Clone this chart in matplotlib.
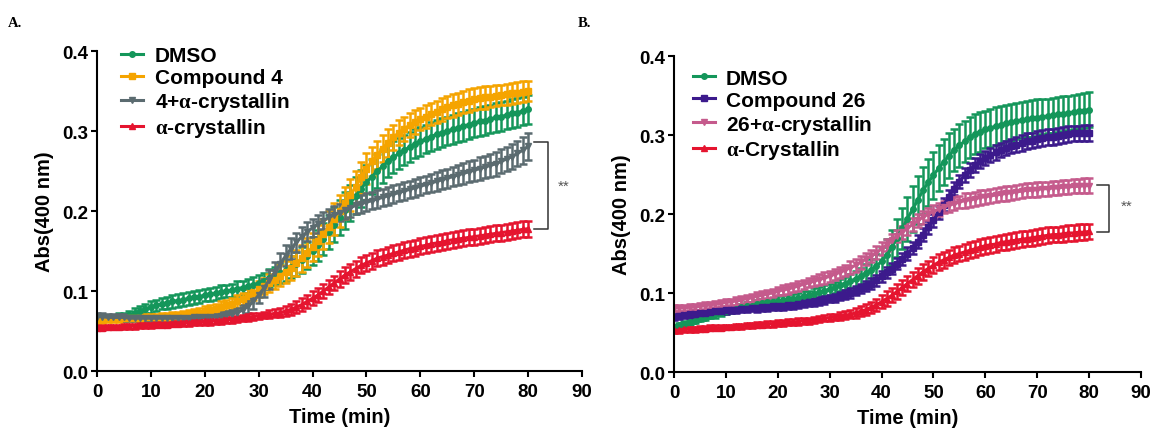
import numpy as np
import matplotlib
matplotlib.use("Agg")
import matplotlib.pyplot as plt

plt.rcParams['font.family'] = ['Liberation Sans', 'DejaVu Sans']
plt.rcParams['font.weight'] = 'bold'
plt.rcParams['mathtext.fontset'] = 'custom'
plt.rcParams['mathtext.rm'] = 'Liberation Serif'

# time points (min)
time = np.arange(0, 81)

# ---- panel A ----
dmso_a = [0.065, 0.065, 0.066, 0.066, 0.067, 0.068, 0.070, 0.073, 0.075, 0.078, 0.080,
          0.082, 0.084, 0.085, 0.087, 0.088, 0.089, 0.091, 0.092, 0.093, 0.095,
          0.096, 0.097, 0.099, 0.100, 0.101, 0.103, 0.104, 0.106, 0.108, 0.110,
          0.113, 0.116, 0.119, 0.122, 0.126, 0.130, 0.134, 0.139, 0.144, 0.150,
          0.157, 0.165, 0.174, 0.183, 0.192, 0.201, 0.210, 0.219, 0.228, 0.236,
          0.243, 0.250, 0.256, 0.262, 0.267, 0.272, 0.276, 0.280, 0.284, 0.287,
          0.290, 0.293, 0.296, 0.298, 0.300, 0.302, 0.304, 0.306, 0.308, 0.310,
          0.312, 0.313, 0.315, 0.317, 0.318, 0.320, 0.322, 0.323, 0.325, 0.327]
dmso_a_sd = [0.004, 0.004, 0.004, 0.004, 0.005, 0.005, 0.005, 0.006, 0.006, 0.006, 0.007,
             0.007, 0.007, 0.008, 0.008, 0.008, 0.008, 0.008, 0.008, 0.008, 0.008,
             0.008, 0.008, 0.008, 0.008, 0.008, 0.009, 0.009, 0.009, 0.009, 0.010,
             0.010, 0.011, 0.011, 0.012, 0.013, 0.014, 0.015, 0.016, 0.017, 0.018,
             0.019, 0.020, 0.021, 0.022, 0.022, 0.023, 0.023, 0.023, 0.023, 0.022,
             0.022, 0.021, 0.021, 0.020, 0.020, 0.019, 0.019, 0.019, 0.018, 0.018,
             0.018, 0.018, 0.018, 0.018, 0.018, 0.018, 0.018, 0.018, 0.018, 0.018,
             0.018, 0.018, 0.018, 0.018, 0.018, 0.018, 0.018, 0.018, 0.018, 0.018]

cmpd4 = [0.064, 0.064, 0.065, 0.065, 0.065, 0.066, 0.066, 0.066, 0.066, 0.067, 0.067,
         0.067, 0.068, 0.068, 0.069, 0.069, 0.070, 0.071, 0.072, 0.073, 0.075,
         0.076, 0.078, 0.080, 0.082, 0.084, 0.087, 0.090, 0.094, 0.098, 0.102,
         0.106, 0.110, 0.114, 0.119, 0.124, 0.129, 0.135, 0.141, 0.148, 0.155,
         0.163, 0.171, 0.180, 0.190, 0.200, 0.210, 0.220, 0.230, 0.242, 0.253,
         0.262, 0.270, 0.278, 0.285, 0.292, 0.298, 0.303, 0.307, 0.311, 0.315,
         0.318, 0.321, 0.324, 0.327, 0.330, 0.332, 0.334, 0.336, 0.338, 0.340,
         0.341, 0.342, 0.343, 0.344, 0.345, 0.346, 0.347, 0.348, 0.349, 0.350]
cmpd4_sd = [0.004, 0.004, 0.004, 0.004, 0.004, 0.004, 0.004, 0.004, 0.004, 0.004, 0.004,
            0.004, 0.004, 0.005, 0.005, 0.005, 0.005, 0.005, 0.005, 0.006, 0.006,
            0.006, 0.006, 0.007, 0.007, 0.007, 0.008, 0.008, 0.009, 0.009, 0.010,
            0.010, 0.011, 0.012, 0.013, 0.014, 0.015, 0.016, 0.017, 0.018, 0.018,
            0.019, 0.019, 0.020, 0.020, 0.020, 0.020, 0.020, 0.020, 0.019, 0.019,
            0.018, 0.018, 0.017, 0.017, 0.016, 0.016, 0.015, 0.015, 0.015, 0.014,
            0.014, 0.014, 0.014, 0.014, 0.014, 0.014, 0.014, 0.014, 0.014, 0.014,
            0.014, 0.014, 0.013, 0.013, 0.013, 0.013, 0.013, 0.013, 0.013, 0.013]

cmpd4_acry = [0.068, 0.068, 0.067, 0.067, 0.067, 0.067, 0.066, 0.066, 0.066, 0.066, 0.066,
              0.066, 0.066, 0.066, 0.066, 0.066, 0.066, 0.066, 0.067, 0.067, 0.067,
              0.068, 0.068, 0.069, 0.070, 0.071, 0.073, 0.076, 0.081, 0.087, 0.095,
              0.104, 0.114, 0.124, 0.134, 0.144, 0.153, 0.161, 0.168, 0.174, 0.179,
              0.184, 0.188, 0.192, 0.195, 0.198, 0.201, 0.204, 0.207, 0.209, 0.211,
              0.213, 0.215, 0.217, 0.219, 0.221, 0.223, 0.225, 0.227, 0.229, 0.231,
              0.233, 0.235, 0.237, 0.239, 0.241, 0.243, 0.245, 0.247, 0.249, 0.251,
              0.253, 0.255, 0.257, 0.259, 0.262, 0.265, 0.268, 0.272, 0.276, 0.281]
cmpd4_acry_sd = [0.004, 0.004, 0.004, 0.004, 0.004, 0.004, 0.004, 0.004, 0.004, 0.004, 0.004,
                 0.004, 0.004, 0.004, 0.004, 0.004, 0.004, 0.004, 0.004, 0.004, 0.004,
                 0.004, 0.004, 0.005, 0.005, 0.005, 0.006, 0.007, 0.008, 0.009, 0.010,
                 0.011, 0.012, 0.012, 0.013, 0.013, 0.013, 0.012, 0.012, 0.012, 0.011,
                 0.011, 0.011, 0.011, 0.011, 0.011, 0.011, 0.011, 0.011, 0.011, 0.011,
                 0.011, 0.011, 0.011, 0.011, 0.011, 0.011, 0.011, 0.011, 0.011, 0.011,
                 0.011, 0.011, 0.012, 0.012, 0.012, 0.012, 0.013, 0.013, 0.013, 0.013,
                 0.014, 0.014, 0.014, 0.015, 0.015, 0.015, 0.016, 0.016, 0.017, 0.017]

acry_a = [0.054, 0.054, 0.055, 0.055, 0.055, 0.056, 0.056, 0.056, 0.057, 0.057, 0.057,
          0.058, 0.058, 0.058, 0.059, 0.059, 0.060, 0.060, 0.061, 0.061, 0.062,
          0.062, 0.063, 0.063, 0.064, 0.064, 0.065, 0.066, 0.067, 0.068, 0.069,
          0.070, 0.071, 0.072, 0.073, 0.075, 0.077, 0.080, 0.083, 0.087, 0.091,
          0.095, 0.100, 0.105, 0.110, 0.115, 0.120, 0.124, 0.128, 0.132, 0.135,
          0.138, 0.141, 0.143, 0.145, 0.147, 0.149, 0.151, 0.153, 0.154, 0.156,
          0.157, 0.159, 0.160, 0.161, 0.163, 0.164, 0.165, 0.166, 0.167, 0.168,
          0.169, 0.170, 0.171, 0.172, 0.173, 0.174, 0.175, 0.176, 0.177, 0.178]
acry_a_sd = [0.003, 0.003, 0.003, 0.003, 0.003, 0.003, 0.003, 0.003, 0.003, 0.003, 0.003,
             0.003, 0.003, 0.003, 0.003, 0.003, 0.004, 0.004, 0.004, 0.004, 0.004,
             0.004, 0.004, 0.004, 0.004, 0.004, 0.004, 0.004, 0.004, 0.004, 0.004,
             0.004, 0.005, 0.005, 0.006, 0.006, 0.007, 0.007, 0.008, 0.008, 0.009,
             0.009, 0.009, 0.009, 0.009, 0.010, 0.010, 0.010, 0.010, 0.010, 0.010,
             0.010, 0.010, 0.010, 0.010, 0.010, 0.010, 0.010, 0.010, 0.010, 0.010,
             0.010, 0.010, 0.010, 0.010, 0.010, 0.010, 0.010, 0.010, 0.010, 0.010,
             0.010, 0.010, 0.010, 0.010, 0.010, 0.010, 0.010, 0.010, 0.010, 0.010]

# ---- panel B ----
dmso_b = [0.057, 0.059, 0.061, 0.063, 0.065, 0.067, 0.069, 0.071, 0.073, 0.075, 0.077,
          0.079, 0.080, 0.082, 0.083, 0.084, 0.086, 0.087, 0.088, 0.089, 0.090,
          0.091, 0.092, 0.093, 0.094, 0.096, 0.097, 0.099, 0.101, 0.103, 0.105,
          0.107, 0.110, 0.112, 0.115, 0.118, 0.121, 0.125, 0.129, 0.134, 0.140,
          0.148, 0.158, 0.170, 0.182, 0.194, 0.206, 0.218, 0.230, 0.240, 0.249,
          0.258, 0.266, 0.274, 0.281, 0.287, 0.292, 0.297, 0.301, 0.304, 0.307,
          0.309, 0.311, 0.313, 0.315, 0.316, 0.318, 0.319, 0.320, 0.321, 0.322,
          0.323, 0.324, 0.325, 0.326, 0.327, 0.328, 0.329, 0.330, 0.331, 0.332]
dmso_b_sd = [0.003, 0.003, 0.003, 0.003, 0.003, 0.003, 0.003, 0.003, 0.004, 0.004, 0.004,
             0.004, 0.004, 0.004, 0.005, 0.005, 0.005, 0.005, 0.005, 0.005, 0.006,
             0.006, 0.006, 0.006, 0.006, 0.006, 0.006, 0.007, 0.007, 0.007, 0.007,
             0.007, 0.008, 0.008, 0.009, 0.010, 0.011, 0.012, 0.014, 0.016, 0.018,
             0.020, 0.022, 0.024, 0.026, 0.028, 0.029, 0.030, 0.030, 0.030, 0.030,
             0.029, 0.029, 0.028, 0.027, 0.027, 0.026, 0.026, 0.025, 0.025, 0.024,
             0.024, 0.024, 0.024, 0.023, 0.023, 0.023, 0.023, 0.023, 0.023, 0.023,
             0.022, 0.022, 0.022, 0.022, 0.022, 0.022, 0.022, 0.022, 0.022, 0.022]

cmpd26 = [0.070, 0.071, 0.072, 0.073, 0.074, 0.075, 0.075, 0.076, 0.077, 0.077, 0.078,
          0.079, 0.079, 0.080, 0.080, 0.081, 0.081, 0.082, 0.082, 0.083, 0.083,
          0.084, 0.085, 0.085, 0.086, 0.087, 0.088, 0.089, 0.090, 0.091, 0.093,
          0.094, 0.096, 0.098, 0.100, 0.103, 0.106, 0.109, 0.112, 0.116, 0.121,
          0.126, 0.131, 0.137, 0.143, 0.150, 0.157, 0.165, 0.174, 0.183, 0.192,
          0.202, 0.212, 0.222, 0.232, 0.241, 0.249, 0.256, 0.262, 0.267, 0.271,
          0.275, 0.278, 0.281, 0.284, 0.286, 0.288, 0.290, 0.292, 0.293, 0.295,
          0.296, 0.297, 0.298, 0.299, 0.300, 0.301, 0.302, 0.302, 0.303, 0.303]
cmpd26_sd = [0.004, 0.004, 0.004, 0.004, 0.004, 0.004, 0.004, 0.004, 0.004, 0.004, 0.004,
             0.004, 0.004, 0.004, 0.004, 0.004, 0.005, 0.005, 0.005, 0.005, 0.005,
             0.005, 0.005, 0.005, 0.005, 0.005, 0.005, 0.005, 0.005, 0.005, 0.005,
             0.005, 0.005, 0.006, 0.006, 0.006, 0.006, 0.006, 0.007, 0.007, 0.007,
             0.007, 0.007, 0.007, 0.008, 0.008, 0.008, 0.008, 0.008, 0.008, 0.008,
             0.008, 0.008, 0.008, 0.008, 0.008, 0.009, 0.009, 0.009, 0.009, 0.009,
             0.009, 0.009, 0.009, 0.009, 0.009, 0.010, 0.010, 0.010, 0.010, 0.010,
             0.010, 0.010, 0.010, 0.010, 0.010, 0.010, 0.010, 0.010, 0.010, 0.010]

cmpd26_acry = [0.081, 0.081, 0.081, 0.082, 0.082, 0.083, 0.084, 0.085, 0.086, 0.087, 0.088,
               0.089, 0.090, 0.091, 0.093, 0.094, 0.096, 0.097, 0.099, 0.100, 0.102,
               0.104, 0.105, 0.107, 0.109, 0.111, 0.113, 0.115, 0.117, 0.119, 0.121,
               0.124, 0.126, 0.129, 0.132, 0.135, 0.139, 0.143, 0.147, 0.151, 0.156,
               0.161, 0.167, 0.172, 0.177, 0.182, 0.187, 0.192, 0.196, 0.200, 0.203,
               0.206, 0.209, 0.211, 0.213, 0.215, 0.217, 0.218, 0.219, 0.221, 0.222,
               0.223, 0.224, 0.225, 0.226, 0.227, 0.228, 0.229, 0.230, 0.230, 0.231,
               0.232, 0.232, 0.233, 0.233, 0.234, 0.234, 0.235, 0.235, 0.236, 0.236]
cmpd26_acry_sd = [0.004, 0.004, 0.004, 0.004, 0.004, 0.004, 0.004, 0.004, 0.004, 0.004, 0.004,
                  0.004, 0.005, 0.005, 0.005, 0.005, 0.005, 0.005, 0.005, 0.005, 0.005,
                  0.006, 0.006, 0.006, 0.006, 0.006, 0.006, 0.006, 0.007, 0.007, 0.007,
                  0.007, 0.007, 0.007, 0.008, 0.008, 0.008, 0.008, 0.008, 0.008, 0.008,
                  0.008, 0.008, 0.008, 0.008, 0.008, 0.008, 0.008, 0.008, 0.008, 0.008,
                  0.008, 0.008, 0.008, 0.008, 0.008, 0.009, 0.009, 0.009, 0.009, 0.009,
                  0.009, 0.009, 0.009, 0.009, 0.009, 0.009, 0.009, 0.009, 0.009, 0.009,
                  0.009, 0.009, 0.009, 0.009, 0.009, 0.009, 0.009, 0.009, 0.009, 0.009]

acry_b = [0.053, 0.053, 0.054, 0.054, 0.054, 0.055, 0.055, 0.056, 0.056, 0.056, 0.057,
          0.057, 0.058, 0.058, 0.059, 0.059, 0.060, 0.060, 0.061, 0.061, 0.062,
          0.062, 0.063, 0.063, 0.064, 0.065, 0.065, 0.066, 0.067, 0.068, 0.069,
          0.070, 0.071, 0.072, 0.073, 0.075, 0.077, 0.079, 0.082, 0.085, 0.089,
          0.093, 0.097, 0.102, 0.107, 0.112, 0.117, 0.122, 0.127, 0.131, 0.135,
          0.139, 0.142, 0.145, 0.148, 0.150, 0.152, 0.154, 0.156, 0.158, 0.160,
          0.161, 0.162, 0.164, 0.165, 0.166, 0.167, 0.168, 0.169, 0.170, 0.171,
          0.172, 0.173, 0.174, 0.174, 0.175, 0.176, 0.176, 0.177, 0.177, 0.178]
acry_b_sd = [0.003, 0.003, 0.003, 0.003, 0.003, 0.003, 0.003, 0.003, 0.003, 0.003, 0.003,
             0.003, 0.003, 0.003, 0.003, 0.003, 0.003, 0.003, 0.004, 0.004, 0.004,
             0.004, 0.004, 0.004, 0.004, 0.004, 0.004, 0.004, 0.004, 0.004, 0.004,
             0.004, 0.005, 0.005, 0.005, 0.006, 0.006, 0.007, 0.007, 0.008, 0.008,
             0.009, 0.009, 0.009, 0.009, 0.010, 0.010, 0.010, 0.010, 0.010, 0.010,
             0.010, 0.010, 0.010, 0.010, 0.010, 0.010, 0.010, 0.010, 0.010, 0.010,
             0.010, 0.010, 0.010, 0.010, 0.010, 0.010, 0.010, 0.010, 0.010, 0.010,
             0.010, 0.010, 0.010, 0.010, 0.010, 0.010, 0.010, 0.010, 0.010, 0.010]

a_series = [
    ("DMSO", dmso_a, dmso_a_sd, "#14965a", "o"),
    ("Compound 4", cmpd4, cmpd4_sd, "#f5a400", "s"),
    ("4+$\\mathrm{\\alpha}$-crystallin", cmpd4_acry, cmpd4_acry_sd, "#5b6b70", "v"),
    ("$\\mathrm{\\alpha}$-crystallin", acry_a, acry_a_sd, "#e5142f", "^"),
]
b_series = [
    ("DMSO", dmso_b, dmso_b_sd, "#14965a", "o"),
    ("Compound 26", cmpd26, cmpd26_sd, "#3c1a8c", "s"),
    ("26+$\\mathrm{\\alpha}$-crystallin", cmpd26_acry, cmpd26_acry_sd, "#c55a8c", "v"),
    ("$\\mathrm{\\alpha}$-Crystallin", acry_b, acry_b_sd, "#e5142f", "^"),
]

fig = plt.figure(figsize=(11.56, 4.35), dpi=100)
ax_a = fig.add_axes([0.0839, 0.1448, 0.4196, 0.7356])
ax_b = fig.add_axes([0.5830, 0.1425, 0.4040, 0.7264])


def draw_panel(ax, series, legend_xy):
    handles = []
    labels = []
    for name, mean, sd, col, mk in series:
        c = ax.errorbar(time, mean, yerr=sd, fmt='-' + mk, color=col, ms=4,
                        mec=col, lw=2.2, elinewidth=1.8, capsize=3,
                        capthick=1.8)
        handles.append(c[0])
        labels.append(name)
    ax.set_xlim(0, 90)
    ax.set_ylim(0, 0.4)
    ax.set_xticks(range(0, 91, 10))
    ax.set_yticks([0.0, 0.1, 0.2, 0.3, 0.4])
    ax.set_yticklabels(["0.0", "0.1", "0.2", "0.3", "0.4"])
    for s in ("top", "right"):
        ax.spines[s].set_visible(False)
    for s in ("left", "bottom"):
        ax.spines[s].set_linewidth(1.5)
    ax.tick_params(axis='both', width=1.5, length=4.5, labelsize=13.5)
    ax.tick_params(axis='x', pad=4)
    ax.tick_params(axis='y', pad=1.5)
    ax.set_xlabel("Time (min)", fontsize=14.5, fontweight='bold', labelpad=5)
    ax.set_ylabel("Abs(400 nm)", fontsize=14.5, fontweight='bold', labelpad=6)
    ax.legend(handles, labels, loc='upper left', bbox_to_anchor=legend_xy,
              frameon=False, fontsize=15, handlelength=1.05, handletextpad=0.55,
              labelspacing=0.14, borderpad=0, borderaxespad=0)


draw_panel(ax_a, a_series, (0.05, 1.015))
draw_panel(ax_b, b_series, (0.04, 0.96))

# significance brackets
ax_a.plot([81, 83.6, 83.6, 81], [0.286, 0.286, 0.177, 0.177], color='#333333',
          lw=1.1, clip_on=False)
ax_a.text(86.5, 0.231, "**", fontsize=11, fontweight='normal', color='#555555',
          ha='center', va='center')
ax_b.plot([81.5, 83.8, 83.8, 81.5], [0.237, 0.237, 0.177, 0.177], color='#333333',
          lw=1.1, clip_on=False)
ax_b.text(87.3, 0.21, "**", fontsize=11, fontweight='normal', color='#555555',
          ha='center', va='center')

fig.text(0.007, 0.947, "A.", family='Liberation Serif', fontsize=10.5,
         fontweight='bold', va='center')
fig.text(0.5, 0.947, "B.", family='Liberation Serif', fontsize=10.5,
         fontweight='bold', va='center')

fig.savefig("out.png", dpi=100)
